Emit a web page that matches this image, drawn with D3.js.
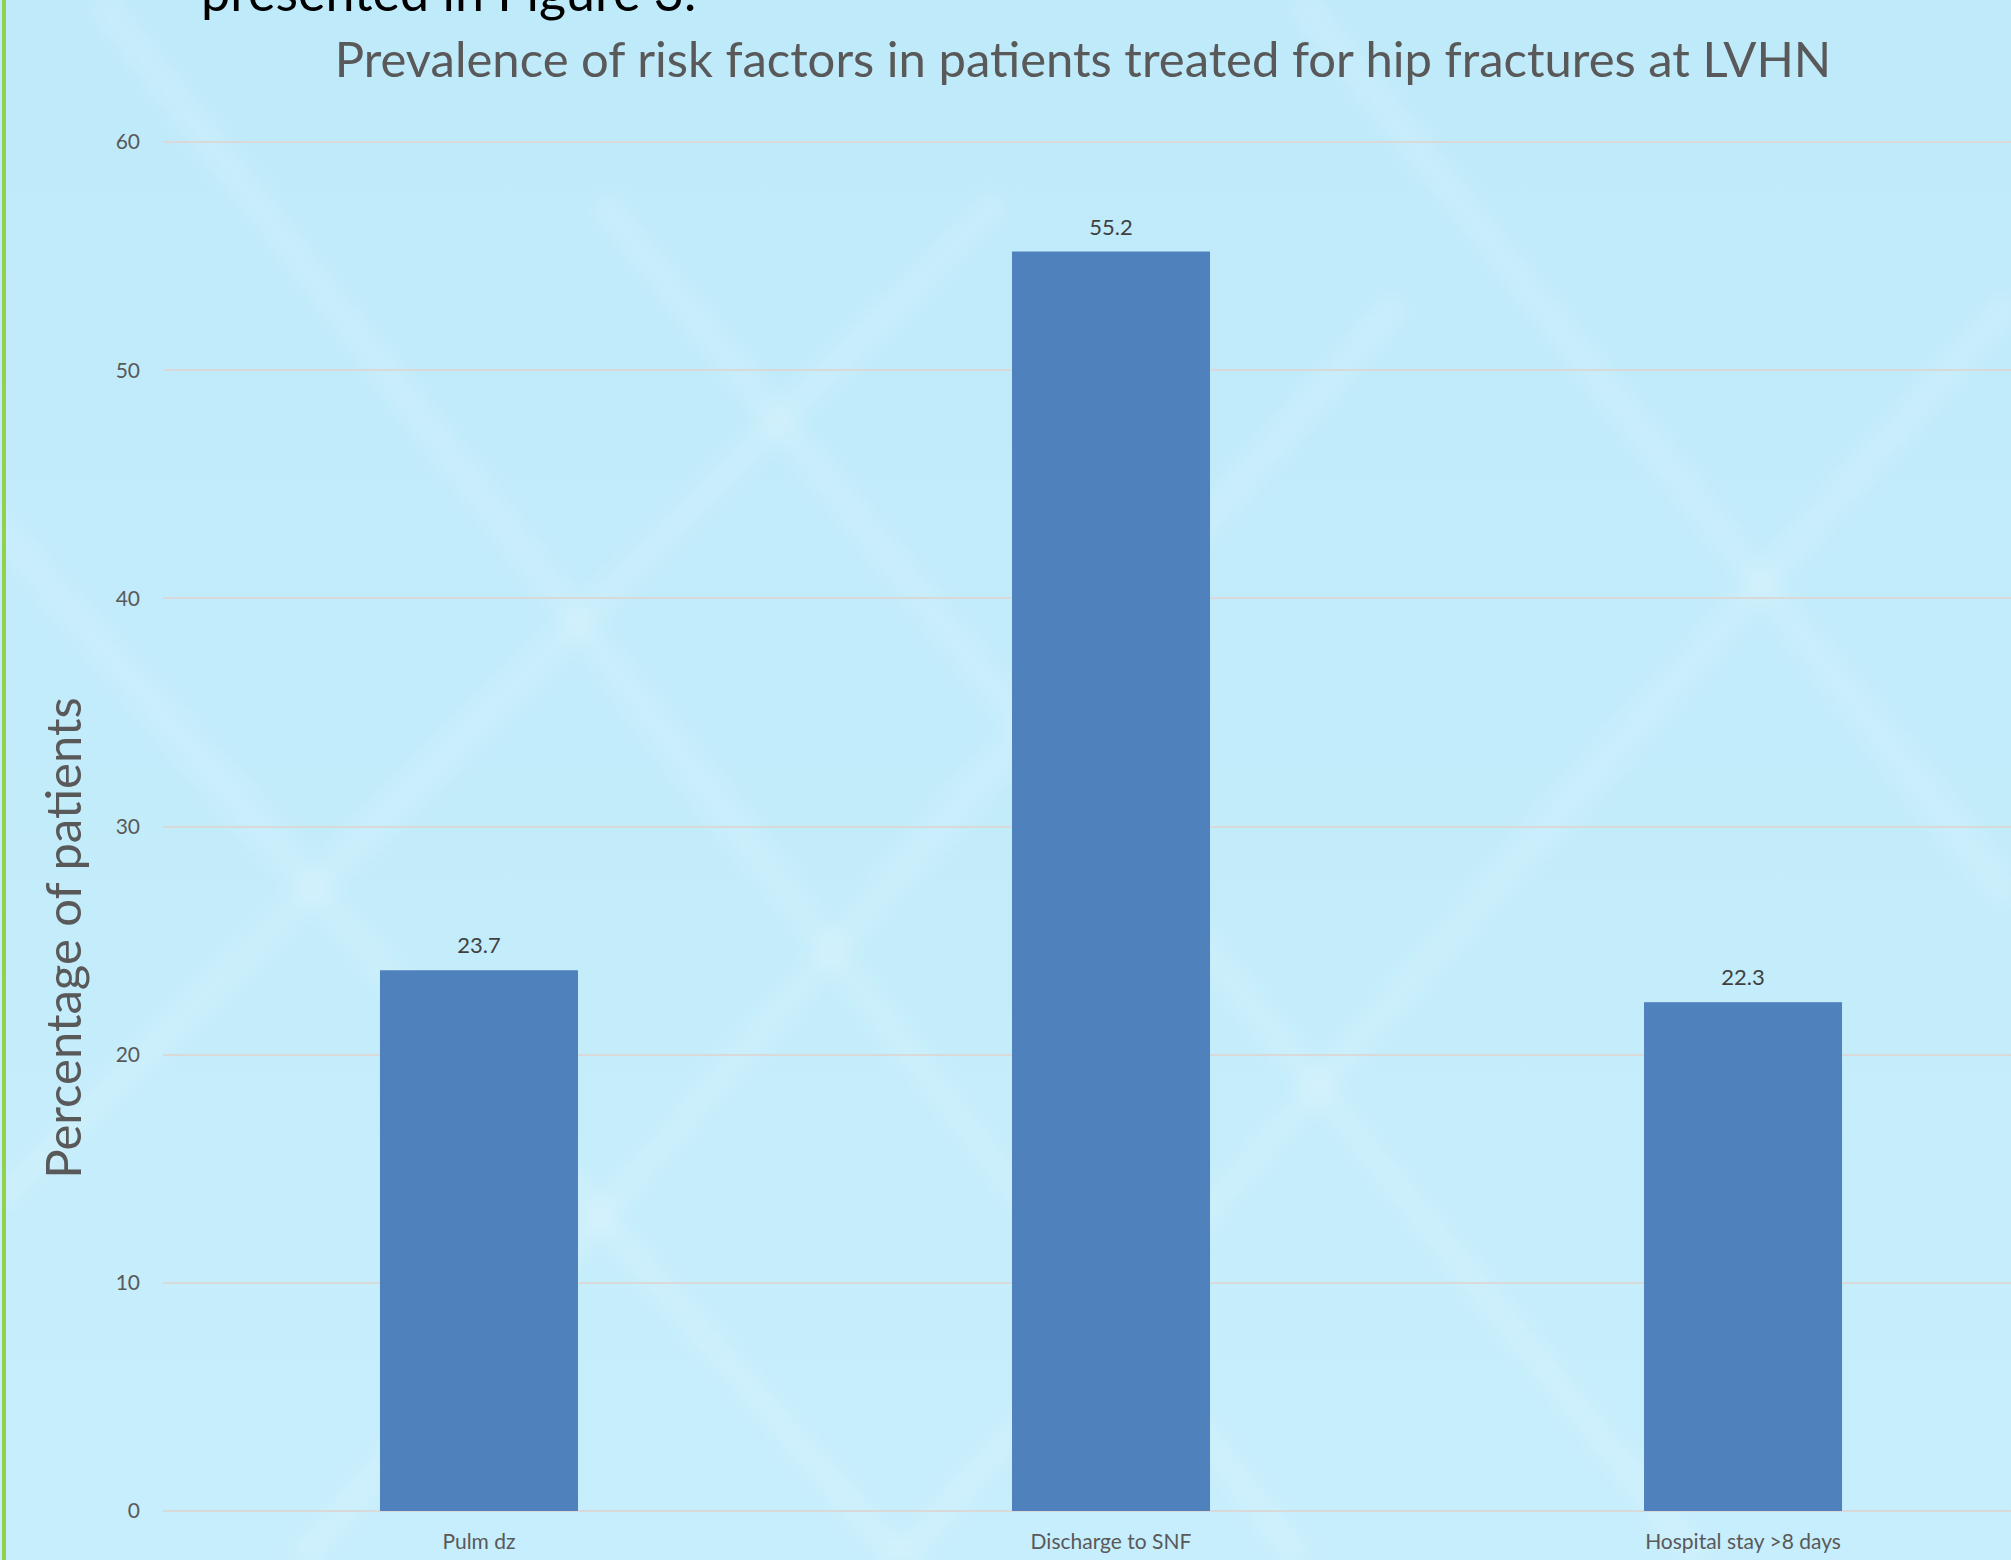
<!DOCTYPE html>
<meta charset="utf-8">
<style>
body { margin: 0; }
svg { display: block; }
.tick-label { font: 21px Lato, sans-serif; fill: #595959; }
.cat-label { font: 21px Lato, sans-serif; fill: #595959; }
.value-label { font: 22px Lato, sans-serif; fill: #404040; }
.grid line { stroke: #d9d9d9; stroke-width: 2px; shape-rendering: crispEdges; }
.bar { fill: #4f81bd; }
</style>
<body>
<div id="chart"></div>
<script src="https://cdn.jsdelivr.net/npm/d3@7"></script>
<script>
var categories = ["Pulm dz", "Discharge to SNF", "Hospital stay >8 days"];
var values = [23.7, 55.2, 22.3];
var yTicks = [0, 10, 20, 30, 40, 50, 60];

var W = 2011, H = 1560;
var svg = d3.select("#chart").append("svg")
    .attr("width", W)
    .attr("height", H);

// background
var defs = svg.append("defs");
var grad = defs.append("linearGradient")
    .attr("id", "bg").attr("x1", 0).attr("y1", 0).attr("x2", 0).attr("y2", 1);
grad.append("stop").attr("offset", "0%").attr("stop-color", "#bfeafa");
grad.append("stop").attr("offset", "100%").attr("stop-color", "#c7eefc");
defs.append("filter").attr("id", "soft")
    .append("feGaussianBlur").attr("stdDeviation", 8);
svg.append("rect").attr("width", W).attr("height", H).attr("fill", "url(#bg)");

// faint lattice decoration
var deco = svg.append("g").attr("stroke", "#ffffff").attr("stroke-opacity", 0.13)
    .attr("stroke-width", 30).attr("fill", "none").attr("filter", "url(#soft)");
[[-200, 300, 900, 1560], [100, 0, 1300, 1560], [600, 200, 1700, 1560], [1300, 0, 2011, 900],
 [900, 1560, 2011, 300], [0, 1200, 1000, 200], [300, 1560, 1400, 300]].forEach(function(l) {
    deco.append("line").attr("x1", l[0]).attr("y1", l[1]).attr("x2", l[2]).attr("y2", l[3]);
});

// green border
svg.append("rect").attr("x", 2).attr("y", 0).attr("width", 4).attr("height", H).attr("fill", "#92d050");

var x = d3.scaleBand()
    .domain(categories)
    .range([163, 2059])
    .paddingInner(0.6867)
    .paddingOuter(0.3433);

var y = d3.scaleLinear()
    .domain([0, 60])
    .range([1511, 142]);

// gridlines
svg.append("g").attr("class", "grid")
    .selectAll("line")
    .data(yTicks)
    .enter().append("line")
    .attr("x1", 163)
    .attr("x2", W)
    .attr("y1", function(d) { return y(d); })
    .attr("y2", function(d) { return y(d); });

// y tick labels
svg.append("g")
    .selectAll("text")
    .data(yTicks)
    .enter().append("text")
    .attr("class", "tick-label")
    .attr("x", 140)
    .attr("y", function(d) { return y(d); })
    .attr("dy", "0.35em")
    .style("text-anchor", "end")
    .text(function(d) { return d; });

// bars
svg.append("g")
    .selectAll("rect")
    .data(values)
    .enter().append("rect")
    .attr("class", "bar")
    .attr("x", function(d, i) { return x(categories[i]); })
    .attr("width", x.bandwidth())
    .attr("y", function(d) { return y(d); })
    .attr("height", function(d) { return y(0) - y(d); });

// value labels
svg.append("g")
    .selectAll("text")
    .data(values)
    .enter().append("text")
    .attr("class", "value-label")
    .attr("x", function(d, i) { return x(categories[i]) + x.bandwidth() / 2; })
    .attr("y", function(d) { return y(d) - 17; })
    .style("text-anchor", "middle")
    .text(function(d) { return d; });

// category labels
svg.append("g")
    .selectAll("text")
    .data(categories)
    .enter().append("text")
    .attr("class", "cat-label")
    .attr("x", function(d) { return x(d) + x.bandwidth() / 2; })
    .attr("y", 1549)
    .style("text-anchor", "middle")
    .text(function(d) { return d; });

// title
svg.append("text")
    .attr("x", 1083)
    .attr("y", 77)
    .style("text-anchor", "middle")
    .style("font", "49px Lato, sans-serif")
    .style("fill", "#595959")
    .text("Prevalence of risk factors in patients treated for hip fractures at LVHN");

// cut-off slide text at the top
svg.append("text")
    .attr("x", 201)
    .attr("y", 11)
    .style("font", "52px Lato, sans-serif")
    .style("fill", "#000")
    .text("presented in Figure 3.");

// y axis title
svg.append("text")
    .attr("transform", "translate(81,938) rotate(-90)")
    .style("text-anchor", "middle")
    .style("font", "49px Lato, sans-serif")
    .style("fill", "#595959")
    .text("Percentage of patients");
</script>
</body>
